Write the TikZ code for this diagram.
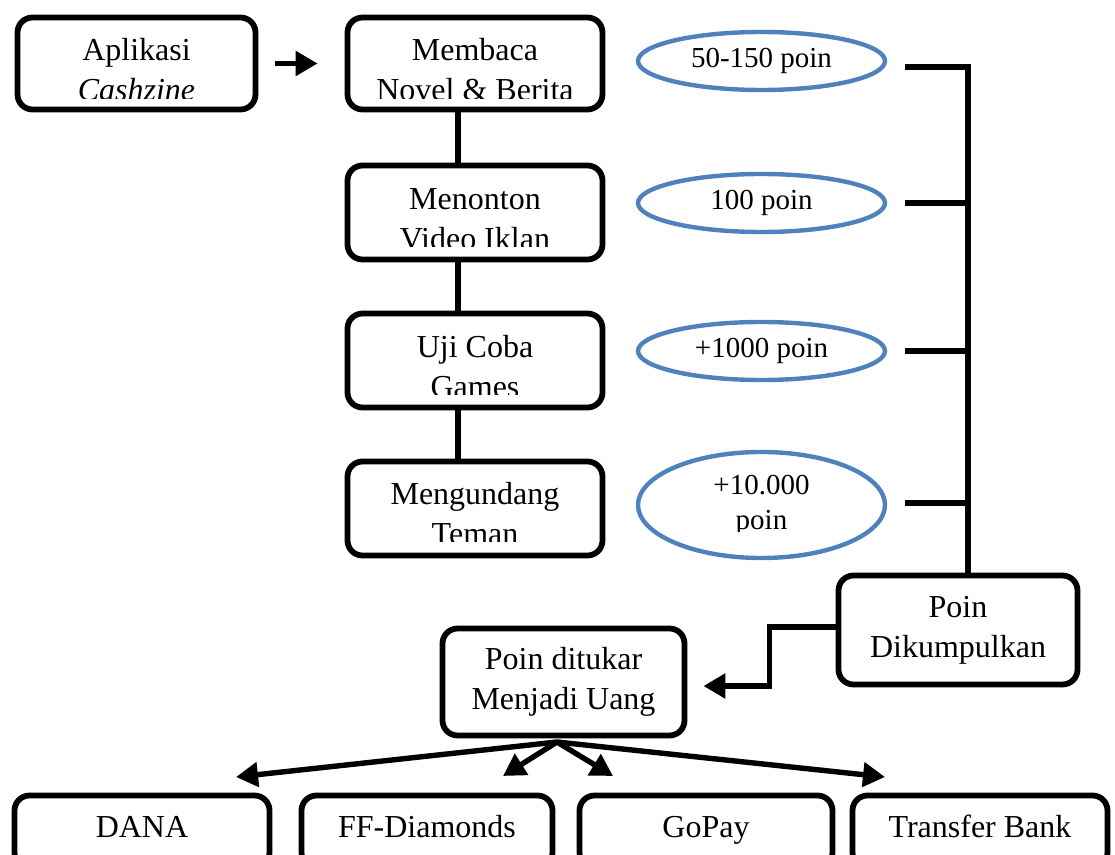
\documentclass[tikz,border=0pt]{standalone}
\usepackage{fontspec}
\setmainfont{Liberation Serif}
\usetikzlibrary{shapes.geometric,arrows.meta}
\definecolor{ellblue}{HTML}{4F81BD}
\tikzset{
  box/.style={draw=black,line width=2.9pt,rounded corners=7.5pt,inner sep=0pt},
  txt/.style={align=center,inner sep=0pt,font=\fontsize{16}{20}\selectfont},
  oval/.style={ellipse,draw=ellblue,line width=2.2pt,align=center,inner sep=0pt,
    font=\fontsize{14.5}{17.5}\selectfont},
  link/.style={line width=2.7pt},
  arr/.style={line width=2.7pt,-{Triangle[length=11pt,width=12pt]}}
}
\begin{document}
\begin{tikzpicture}[x=0.5pt,y=-0.5pt]
\clip (0,0) rectangle (1115,855);
\useasboundingbox (0,0) rectangle (1115,855);
% left column boxes
\node[box,minimum width=119pt,minimum height=46pt] (apl) at (136.5,63.5) {};
\node[box,minimum width=127.5pt,minimum height=46pt] (m1) at (475,63.5) {};
\node[box,minimum width=127.5pt,minimum height=47pt] (m2) at (475,212.5) {};
\node[box,minimum width=127.5pt,minimum height=47pt] (m3) at (475,360.5) {};
\node[box,minimum width=127.5pt,minimum height=47pt] (m4) at (475,508.5) {};
% clipped texts (as in the original text boxes)
\begin{scope}\clip (20,20) rectangle (254,99);
\node[txt] (aplt) at (136.5,70) {Aplikasi\\\textit{Cashzine}};\end{scope}
\begin{scope}\clip (350,20) rectangle (600,99);
\node[txt] (m1t) at (475,70) {Membaca\\Novel \& Berita};\end{scope}
\begin{scope}\clip (350,168) rectangle (600,247);
\node[txt] (m2t) at (475,219) {Menonton\\Video Iklan};\end{scope}
\begin{scope}\clip (350,316) rectangle (600,395);
\node[txt] (m3t) at (475,367) {Uji Coba\\Games};\end{scope}
\begin{scope}\clip (350,464) rectangle (600,542);
\node[txt] (m4t) at (475,514) {Mengundang\\Teman};\end{scope}
% ellipses
\node[oval,minimum width=123.5pt,minimum height=29pt] (e1) at (761.5,61) {50-150 poin};
\node[oval,minimum width=123.5pt,minimum height=29pt] (e2) at (761.5,203) {100 poin};
\node[oval,minimum width=123.5pt,minimum height=29pt] (e3) at (761.5,351) {+1000 poin};
\node[oval,minimum width=123.5pt,minimum height=53pt] (e4) at (761.5,505) {};
\begin{scope}\clip (660,460) rectangle (860,532);
\node[txt,font=\fontsize{14.5}{17.5}\selectfont] (e4t) at (761.5,505) {+10.000\\poin};\end{scope}
% collect / exchange
\node[box,minimum width=119.5pt,minimum height=54.5pt] (pk) at (958,630) {};
\node[txt] (pkt) at (958,630) {Poin\\Dikumpulkan};
\node[box,minimum width=121pt,minimum height=53.5pt] (uang) at (563.5,682) {};
\node[txt] (uangt) at (563.5,682) {Poin ditukar\\Menjadi Uang};
% bottom
\node[box,minimum width=127.5pt,minimum height=36pt] (dana) at (142,831.5) {};
\node[box,minimum width=125.5pt,minimum height=36pt] (ff) at (427,831.5) {};
\node[box,minimum width=126.5pt,minimum height=36pt] (gopay) at (706,831.5) {};
\node[box,minimum width=127.5pt,minimum height=36pt] (tb) at (980,831.5) {};
\node[txt,anchor=base] (danat) at (142,837) {DANA};
\node[txt,anchor=base] (fft) at (427,837) {FF-Diamonds};
\node[txt,anchor=base] (gopayt) at (706,837) {GoPay};
\node[txt,anchor=base] (tbt) at (980,837) {Transfer Bank};
% connectors
\draw[arr,shorten <=8.5pt,shorten >=13.5pt] (apl.east) -- (m1.west);
\draw[link] ([xshift=-8.5pt]m1.south) -- ([xshift=-8.5pt]m2.north);
\draw[link] ([xshift=-8.5pt]m2.south) -- ([xshift=-8.5pt]m3.north);
\draw[link] ([xshift=-8.5pt]m3.south) -- ([xshift=-8.5pt]m4.north);
\coordinate (bus) at (968,67);
\draw[link] ([xshift=9pt,yshift=-3pt]e1.east) -- (bus) -- (bus |- pk.north);
\draw[link] ([xshift=9pt]e2.east) -- (e2.east -| bus);
\draw[link] ([xshift=9pt]e3.east) -- (e3.east -| bus);
\draw[link] ([xshift=9pt,yshift=1pt]e4.east) -- ([yshift=1pt]e4.east -| bus);
\draw[arr] ([yshift=1.5pt]pk.west) -- ++(-33pt,0) |- ([xshift=8pt,yshift=-2pt]uang.east);
\coordinate (hub) at (557,742);
\coordinate (t1) at (236,777);
\coordinate (t2) at (503,776);
\coordinate (t3) at (613,776);
\coordinate (t4) at (885,777);
\draw[arr] (hub) -- (t1);
\draw[arr] (hub) -- (t2);
\draw[arr] (hub) -- (t3);
\draw[arr] (hub) -- (t4);
\end{tikzpicture}
\end{document}
